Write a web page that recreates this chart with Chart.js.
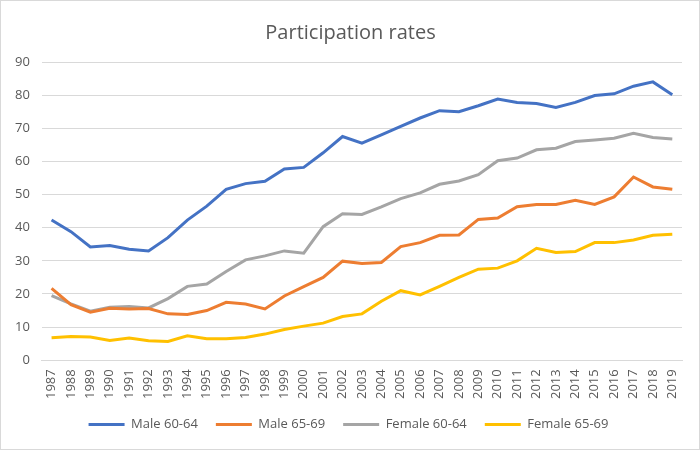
<!DOCTYPE html>
<html lang="en">
<head>
    <meta charset="UTF-8">
    <title>Participation rates</title>
    <script src="https://cdn.jsdelivr.net/npm/chart.js"></script>
    <style>
        body { margin: 0; background: #fff; }
        .caixa {
            width: 698px;
            height: 448px;
            border: 1px solid #d9d9d9;
        }
    </style>
</head>
<body>
    <div class="caixa">
        <canvas id="grafico" width="698" height="448"></canvas>
    </div>

    <script>
        const anos = [1987, 1988, 1989, 1990, 1991, 1992, 1993, 1994, 1995, 1996, 1997,
            1998, 1999, 2000, 2001, 2002, 2003, 2004, 2005, 2006, 2007, 2008,
            2009, 2010, 2011, 2012, 2013, 2014, 2015, 2016, 2017, 2018, 2019];

        const male6064 = [42.3, 38.8, 34.2, 34.6, 33.5, 33.0, 37.0, 42.3, 46.5, 51.6, 53.3,
            54.0, 57.7, 58.2, 62.6, 67.5, 65.5, 68.0, 70.6, 73.1, 75.3, 75.0,
            76.8, 78.8, 77.8, 77.5, 76.3, 77.8, 79.9, 80.4, 82.7, 84.0, 80.1];

        const male6569 = [21.7, 16.8, 14.5, 15.7, 15.5, 15.6, 14.0, 13.8, 15.0, 17.5, 17.0,
            15.5, 19.4, 22.2, 25.0, 29.9, 29.2, 29.5, 34.3, 35.5, 37.7, 37.8,
            42.5, 42.9, 46.3, 47.0, 47.0, 48.3, 47.0, 49.3, 55.3, 52.3, 51.6];

        const female6064 = [19.5, 17.0, 14.8, 16.0, 16.2, 15.8, 18.6, 22.3, 23.0, 26.8, 30.3,
            31.5, 33.0, 32.3, 40.3, 44.2, 44.0, 46.3, 48.8, 50.5, 53.1, 54.1,
            56.0, 60.2, 61.0, 63.5, 64.0, 66.0, 66.5, 67.0, 68.5, 67.2, 66.8];

        const female6569 = [6.8, 7.2, 7.0, 6.0, 6.7, 5.9, 5.7, 7.4, 6.5, 6.5, 6.9,
            7.9, 9.3, 10.3, 11.2, 13.2, 14.0, 17.8, 21.0, 19.7, 22.3, 25.0,
            27.5, 27.8, 30.0, 33.8, 32.5, 32.8, 35.5, 35.5, 36.3, 37.7, 38.0];

        const fonte = "'Open Sans', 'Liberation Sans', sans-serif";
        const cinzaTexto = '#595959';

        function serie(nome, dados, cor) {
            return {
                label: nome,
                data: dados,
                borderColor: cor,
                backgroundColor: cor,
                borderWidth: 3,
                pointRadius: 0,
                pointHoverRadius: 0,
                tension: 0
            };
        }

        // ajusta legenda e titulo como no Excel (legenda mais perto dos anos, centrados na area do grafico)
        const ajustarBlocos = {
            id: 'ajustarBlocos',
            afterLayout(chart) {
                chart.legend.top -= 8;
                chart.legend.bottom -= 8;
                chart.legend.left += 6;
                chart.legend.right += 6;
                chart.titleBlock.left += 8;
                chart.titleBlock.right += 8;
            }
        };

        new Chart(document.getElementById('grafico'), {
            type: 'line',
            data: {
                labels: anos.map(String),
                datasets: [
                    serie('Male 60-64', male6064, '#4472c4'),
                    serie('Male 65-69', male6569, '#ed7d31'),
                    serie('Female 60-64', female6064, '#a5a5a5'),
                    serie('Female 65-69', female6569, '#ffc000')
                ]
            },
            plugins: [ajustarBlocos],
            options: {
                responsive: false,
                animation: false,
                layout: { padding: { left: 2, right: 17, top: 4, bottom: 0 } },
                plugins: {
                    title: {
                        display: true,
                        text: 'Participation rates',
                        color: cinzaTexto,
                        font: { family: fonte, size: 20, weight: 'normal' },
                        padding: { top: 16, bottom: 17 }
                    },
                    legend: {
                        position: 'bottom',
                        labels: {
                            usePointStyle: true,
                            pointStyle: 'line',
                            pointStyleWidth: 36,
                            color: cinzaTexto,
                            font: { family: fonte, size: 13 },
                            padding: 18
                        }
                    },
                    tooltip: { enabled: false }
                },
                scales: {
                    x: {
                        offset: true,
                        grid: { display: false, drawTicks: false },
                        border: { color: '#d9d9d9' },
                        ticks: {
                            color: cinzaTexto,
                            font: { family: fonte, size: 13 },
                            minRotation: 90,
                            maxRotation: 90,
                            autoSkip: false,
                            padding: 9
                        },
                        afterFit(eixo) {
                            eixo.paddingLeft = 0;
                            eixo.paddingRight = 0;
                        }
                    },
                    y: {
                        min: 0,
                        max: 90,
                        ticks: {
                            stepSize: 10,
                            color: cinzaTexto,
                            font: { family: fonte, size: 13 },
                            padding: 12
                        },
                        grid: { color: '#d9d9d9', drawTicks: false },
                        border: { display: false }
                    }
                }
            }
        });
    </script>
</body>
</html>
